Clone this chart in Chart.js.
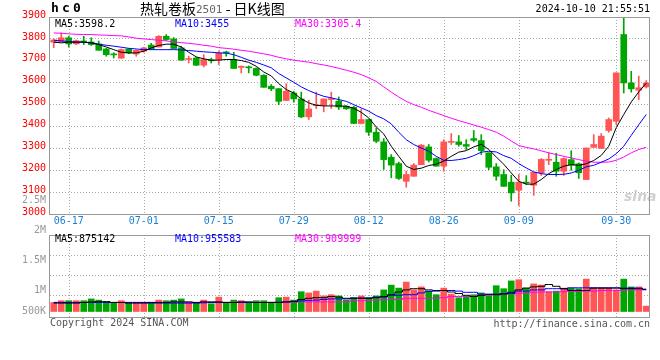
<!DOCTYPE html>
<html>
<head>
<meta charset="utf-8">
<script src="https://cdn.jsdelivr.net/npm/chart.js@4.4.1/dist/chart.umd.min.js"></script>
<style>
html, body { margin: 0; padding: 0; background: #fff; }
#wrap { width: 660px; height: 360px; }
</style>
</head>
<body>
<div id="wrap"><canvas id="kline" width="660" height="360"></canvas></div>
<script>
// trading days shown (last one is the night session of 10-11)
const days = [
    "06-13","06-14","06-17","06-18","06-19","06-20","06-21","06-24","06-25","06-26","06-27","06-28",
    "07-01","07-02","07-03","07-04","07-05","07-08","07-09","07-10","07-11","07-12",
    "07-15","07-16","07-17","07-18","07-19","07-22","07-23","07-24","07-25","07-26",
    "07-29","07-30","07-31","08-01","08-02","08-05","08-06","08-07","08-08","08-09",
    "08-12","08-13","08-14","08-15","08-16","08-19","08-20","08-21","08-22","08-23",
    "08-26","08-27","08-28","08-29","08-30","09-02","09-03","09-04","09-05","09-06",
    "09-09","09-10","09-11","09-12","09-13","09-18","09-19","09-20",
    "09-23","09-24","09-25","09-26","09-27","09-30","10-08","10-09","10-10","10-11"
];
const dayTicks = ["06-17","07-01","07-15","07-29","08-12","08-26","09-09","09-30"];

const open = [3785,3786,3805,3777,3788,3786,3777,3754,3730,3712,
    3754,3731,3744,3772,3763,3812,3800,3759,3706,3713,
    3680,3703,3706,3738,3706,3670,3672,3665,3634,3584,
    3573,3519,3553,3526,3444,3495,3497,3523,3516,3493,
    3488,3414,3432,3374,3330,3260,3231,3150,3173,3226,
    3307,3254,3219,3328,3330,3318,3345,3336,3280,3216,
    3181,3146,3109,3145,3132,3189,3246,3237,3196,3249,
    3230,3158,3305,3300,3382,3424,3820,3599,3566,3581];
const high = [3800,3827,3812,3795,3812,3805,3790,3757,3737,3754,
    3757,3750,3762,3780,3815,3820,3806,3766,3721,3715,
    3728,3713,3744,3744,3739,3677,3677,3668,3637,3592,
    3573,3596,3561,3557,3520,3557,3526,3557,3535,3495,
    3493,3480,3432,3394,3345,3272,3238,3196,3231,3318,
    3318,3257,3340,3368,3359,3340,3382,3363,3280,3231,
    3203,3178,3181,3176,3191,3254,3280,3278,3257,3290,
    3234,3302,3363,3368,3439,3645,3903,3652,3630,3610];
const low = [3760,3786,3763,3774,3774,3770,3748,3721,3713,3712,
    3733,3721,3739,3751,3763,3792,3756,3703,3690,3678,
    3672,3690,3683,3721,3665,3645,3645,3631,3579,3564,
    3500,3519,3511,3440,3432,3482,3467,3482,3478,3478,
    3414,3412,3359,3326,3204,3166,3158,3123,3173,3226,
    3238,3219,3196,3318,3310,3295,3330,3272,3203,3155,
    3127,3059,3039,3135,3086,3177,3226,3173,3177,3200,
    3163,3158,3305,3300,3374,3409,3553,3557,3523,3576];
const close = [3795,3805,3777,3792,3786,3774,3748,3728,3727,3751,
    3736,3748,3759,3754,3812,3797,3756,3703,3710,3680,
    3706,3700,3736,3736,3665,3675,3668,3634,3579,3572,
    3515,3561,3526,3444,3480,3497,3526,3526,3489,3481,
    3414,3432,3374,3333,3249,3224,3163,3181,3224,3315,
    3246,3219,3330,3330,3318,3310,3337,3290,3214,3173,
    3127,3097,3146,3142,3191,3250,3249,3196,3254,3224,
    3189,3302,3318,3356,3432,3645,3599,3572,3577,3599];

// moving averages as drawn
const ma5 = [3785,3782,3785,3785,3785,3782,3774,3763,3751,3739,
    3736,3736,3744,3759,3770,3776,3776,3763,3739,3718,
    3709,3703,3703,3706,3706,3701,3693,3675,3649,3631,
    3596,3569,3553,3526,3508,3497,3494,3494,3494,3493,
    3483,3465,3439,3398,3366,3310,3264,3219,3204,3210,
    3222,3228,3242,3264,3283,3290,3307,3319,3295,3261,
    3228,3188,3150,3137,3137,3158,3185,3204,3219,3226,
    3223,3230,3245,3268,3310,3395,3455,3512,3558,3598.2];
const ma10 = [3794,3791,3788,3786,3785,3782,3776,3771,3767,3762,
    3757,3754,3751,3751,3751,3751,3751,3750,3747,3744,
    3741,3739,3736,3735,3728,3716,3703,3693,3681,3668,
    3642,3622,3602,3581,3564,3550,3538,3531,3523,3515,
    3500,3485,3470,3450,3435,3412,3374,3340,3318,3302,
    3287,3264,3246,3245,3249,3255,3267,3283,3287,3284,
    3267,3255,3231,3211,3193,3185,3181,3181,3182,3188,
    3200,3216,3223,3237,3252,3276,3310,3360,3408,3455];
const ma30 = [3827,3826,3823,3821,3820,3820,3818,3817,3815,3814,
    3809,3803,3800,3797,3794,3791,3786,3783,3780,3776,
    3771,3767,3760,3757,3753,3748,3744,3738,3732,3725,
    3716,3709,3703,3698,3694,3687,3681,3674,3666,3657,
    3648,3637,3622,3606,3581,3557,3535,3515,3500,3488,
    3474,3462,3450,3438,3427,3417,3407,3397,3386,3374,
    3356,3334,3313,3305,3298,3289,3280,3272,3264,3257,
    3249,3242,3237,3237,3238,3246,3261,3280,3295,3305.4];

const volume = [800000,830000,830000,830000,830000,860000,840000,800000,800000,830000,
    790000,790000,790000,790000,840000,830000,840000,860000,800000,790000,
    840000,780000,890000,800000,840000,830000,800000,830000,830000,800000,
    880000,890000,840000,980000,960000,990000,910000,930000,910000,840000,
    880000,910000,880000,910000,1010000,1090000,1040000,1140000,1010000,1060000,
    990000,930000,1040000,940000,880000,910000,930000,960000,910000,1080000,
    1030000,1160000,1180000,1040000,1110000,1090000,980000,990000,1040000,1040000,
    1030000,1190000,1040000,1040000,1040000,1010000,1190000,1060000,1060000,740000];
const volMa5 = [790000,790000,790000,790000,800000,810000,815000,815000,800000,800000,
    790000,790000,790000,800000,800000,800000,810000,810000,810000,800000,
    810000,810000,810000,800000,800000,810000,810000,800000,800000,800000,
    800000,810000,820000,850000,870000,880000,880000,900000,890000,870000,
    870000,870000,870000,880000,900000,930000,975000,1010000,1030000,1030000,
    1010000,1000000,1000000,975000,950000,920000,900000,920000,930000,930000,
    940000,970000,1010000,1040000,1060000,1070000,1100000,1070000,1030000,1000000,
    1000000,1000000,1040000,1040000,1040000,1040000,1030000,1030000,1030000,1020000];
const volMa10 = [800000,800000,800000,800000,800000,800000,800000,800000,800000,800000,
    800000,800000,800000,790000,790000,790000,790000,790000,790000,790000,
    795000,800000,800000,800000,800000,800000,800000,800000,800000,800000,
    805000,810000,815000,825000,835000,840000,850000,860000,860000,860000,
    875000,875000,875000,890000,890000,920000,920000,930000,930000,960000,
    985000,990000,1000000,1000000,990000,970000,970000,940000,940000,940000,
    950000,950000,990000,990000,1010000,1010000,1030000,1030000,1030000,1045000,
    1045000,1045000,1045000,1045000,1045000,1045000,1040000,1040000,1040000,1020000];
const volMa30 = [803000,803000,803000,803000,803000,803000,803000,803000,803000,803000,
    803000,803000,803000,803000,803000,803000,803000,803000,803000,803000,
    805000,805000,805000,805000,805000,805000,805000,805000,805000,805000,
    805000,805000,805000,810000,810000,810000,810000,810000,810000,810000,
    830000,830000,835000,840000,845000,850000,850000,870000,870000,870000,
    870000,875000,880000,900000,900000,900000,905000,920000,925000,930000,
    940000,945000,955000,960000,970000,975000,975000,975000,980000,985000,
    985000,990000,990000,1000000,1000000,1000000,1005000,1010000,1010000,1010000];

const priceTicks = [3000,3100,3200,3300,3400,3500,3600,3700,3800,3900];
const volTicks = [500000,1000000,1500000,2000000,2500000];
const volTickLabels = ["500K","1M","1.5M","2M","2.5M"];
const priceLegend = ["MA5:3598.2","MA10:3455","MA30:3305.4"];
const volLegend = ["MA5:875142","MA10:955583","MA30:909999"];

const UP = "#ff5555", DOWN = "#00a600";
const MONO = "DejaVu Sans Mono";
const lineColors = ["#000000", "#0000ff", "#ff00ff"];

const candleColors = open.map((o, i) => close[i] >= o ? UP : DOWN);

function text(ctx, str, x, y, font, color, align) {
    ctx.font = font;
    ctx.fillStyle = color;
    ctx.textAlign = align || "left";
    ctx.textBaseline = "middle";
    ctx.fillText(str, x, y);
}

// frames, dotted grid and all the loose texts round the two panels
const panels = {
    id: "panels",
    beforeDatasetsDraw(chart) {
        const { ctx, chartArea: a, scales } = chart;
        const pTop = scales.y.getPixelForValue(3900);
        const pBot = scales.y.getPixelForValue(3000);
        const vTop = a.bottom - 83;
        ctx.save();
        ctx.strokeStyle = "#aaa";
        ctx.lineWidth = 1;
        ctx.setLineDash([1, 2]);
        dayTicks.forEach(d => {
            const x = Math.round(scales.x.getPixelForValue(days.indexOf(d))) + 0.5;
            ctx.beginPath();
            ctx.moveTo(x, pTop); ctx.lineTo(x, pBot);
            ctx.moveTo(x, vTop); ctx.lineTo(x, a.bottom);
            ctx.stroke();
        });
        for (let k = 1; k < 4; k++) {
            const yy = vTop + 20 * k + 0.5;
            ctx.beginPath();
            ctx.moveTo(a.left, yy); ctx.lineTo(a.right, yy);
            ctx.stroke();
        }
        ctx.restore();
        // sina watermark
        ctx.save();
        text(ctx, "sina", 624, 197, "italic bold 14px 'DejaVu Sans'", "#d0d0d0", "left");
        ctx.restore();
    },
    afterDatasetsDraw(chart) {
        const { ctx, chartArea: a, scales } = chart;
        const pTop = Math.round(scales.y.getPixelForValue(3900));
        const pBot = Math.round(scales.y.getPixelForValue(3000));
        const vTop = a.bottom - 83;
        ctx.save();
        ctx.strokeStyle = "#999";
        ctx.lineWidth = 1;
        ctx.strokeRect(a.left - 0.5, pTop + 0.5, a.right - a.left, pBot - pTop);
        ctx.strokeRect(a.left - 0.5, vTop + 0.5, a.right - a.left, a.bottom - vTop - 1);
        ctx.restore();
    },
    afterDraw(chart) {
        const { ctx, chartArea: a, scales } = chart;
        const vTop = a.bottom - 83;
        ctx.save();
        // header
        ["h", "c", "0"].forEach((ch, i) => text(ctx, ch, 51 + i * 11, 9, `bold 13px ${MONO}`, "#000"));
        ctx.font = "14px 'Noto Sans CJK SC'";
        let x = 140;
        text(ctx, "热轧卷板", x, 9, "14px 'Noto Sans CJK SC'", "#000");
        x += ctx.measureText("热轧卷板").width;
        text(ctx, "2501", x, 10, `11px ${MONO}`, "#666");
        x += ctx.measureText("2501").width;
        text(ctx, " - 日K线图", x, 9, "14px 'Noto Sans CJK SC'", "#000");
        text(ctx, "2024-10-10 21:55:51", 650, 9, `10px ${MONO}`, "#000", "right");
        // legends
        const lx = [55, 175, 295];
        priceLegend.forEach((s, i) => text(ctx, s, lx[i], 24, `10px ${MONO}`, lineColors[i]));
        volLegend.forEach((s, i) => text(ctx, s, lx[i], vTop + 4, `10px ${MONO}`, lineColors[i]));
        // volume axis labels
        volTicks.forEach((v, i) => {
            const yy = Math.min(scales.yv.getPixelForValue(v), a.bottom - 7);
            text(ctx, volTickLabels[i], 46, yy, `10px ${MONO}`, "#999", "right");
        });
        // footer
        text(ctx, "Copyright 2024 SINA.COM", 50, 323, `10px ${MONO}`, "#555");
        text(ctx, "http://finance.sina.com.cn", 650, 324, `10px ${MONO}`, "#555", "right");
        ctx.restore();
    }
};

const lineSet = (label, data, color, axis, stepped) => ({
    type: "line",
    label: label,
    data: data,
    yAxisID: axis,
    borderColor: color,
    borderWidth: 1,
    pointRadius: 0,
    stepped: stepped || false,
    tension: 0,
    order: 0
});

new Chart(document.getElementById("kline"), {
    type: "bar",
    data: {
        labels: days,
        datasets: [
            lineSet("MA5", ma5, lineColors[0], "y"),
            lineSet("MA10", ma10, lineColors[1], "y"),
            lineSet("MA30", ma30, lineColors[2], "y"),
            lineSet("VMA5", volMa5, lineColors[0], "yv", "middle"),
            lineSet("VMA10", volMa10, lineColors[1], "yv", "middle"),
            lineSet("VMA30", volMa30, lineColors[2], "yv", "middle"),
            {
                label: "body",
                data: days.map((_, i) => [open[i], close[i]]),
                yAxisID: "y",
                backgroundColor: candleColors,
                barThickness: 6,
                minBarLength: 1,
                grouped: false,
                order: 1
            },
            {
                label: "wick",
                data: days.map((_, i) => [low[i], high[i]]),
                yAxisID: "y",
                backgroundColor: candleColors,
                barThickness: 1,
                grouped: false,
                order: 2
            },
            {
                label: "volume",
                data: volume,
                base: 650000,
                yAxisID: "yv",
                backgroundColor: candleColors,
                barThickness: 6,
                grouped: false,
                order: 3
            }
        ]
    },
    options: {
        responsive: false,
        animation: false,
        devicePixelRatio: 1,
        layout: { padding: { top: 17, right: 10, bottom: 42, left: 0 } },
        plugins: { legend: { display: false }, tooltip: { enabled: false } },
        scales: {
            x: {
                type: "category",
                offset: true,
                position: { y: 3000 },
                grid: { display: false, drawTicks: false },
                border: { display: false },
                afterFit(s) { s.height = 0; },
                ticks: {
                    autoSkip: false,
                    maxRotation: 0,
                    minRotation: 0,
                    padding: 1,
                    color: "#1a7fd4",
                    font: { family: MONO, size: 10 },
                    callback(v) {
                        const d = this.getLabelForValue(v);
                        return dayTicks.includes(d) ? d : "";
                    }
                }
            },
            y: {
                position: "left",
                min: 2526,
                max: 3900,
                afterBuildTicks(s) { s.ticks = priceTicks.map(v => ({ value: v })); },
                afterFit(s) { s.width = 50; },
                grid: { color: "#aaa", drawTicks: false },
                border: { display: false, dash: [1, 2] },
                ticks: {
                    color: "#ff0000",
                    padding: 4,
                    labelOffset: -2,
                    font: { family: MONO, size: 10 },
                    callback: v => String(v)
                }
            },
            yv: {
                display: false,
                min: 541667,
                max: 5558333
            }
        }
    },
    plugins: [panels]
});
</script>
</body>
</html>
